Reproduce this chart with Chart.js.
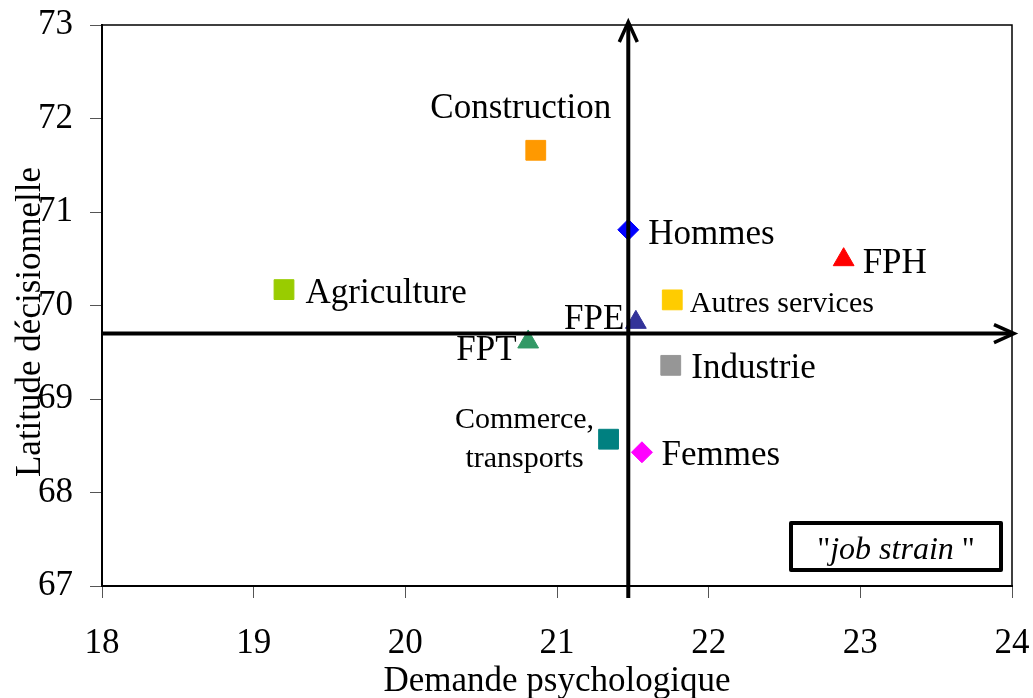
<!DOCTYPE html>
<html>
<head>
<meta charset="utf-8">
<script src="https://cdn.jsdelivr.net/npm/chart.js@4.4.0/dist/chart.umd.min.js"></script>
<style>
  body { margin: 0; background: #fff; }
  #wrap { width: 1033px; height: 698px; }
</style>
</head>
<body>
<div id="wrap"><canvas id="chart" width="1033" height="698"></canvas></div>
<script>
// data
const groups = ['Construction', 'Hommes', 'FPH', 'Agriculture', 'Autres services', 'FPE', 'FPT', 'Industrie', ['Commerce,', 'transports'], 'Femmes'];
const demande = [20.86, 21.47, 22.89, 19.20, 21.76, 21.52, 20.81, 21.75, 21.34, 21.56];
const latitude = [71.66, 70.81, 70.49, 70.17, 70.06, 69.82, 69.61, 69.36, 68.57, 68.43];
const xTicks = [18, 19, 20, 21, 22, 23, 24];
const yTicks = [67, 68, 69, 70, 71, 72, 73];
const crossDemande = 21.47;   // vertical reference axis
const crossLatitude = 69.70;  // horizontal reference axis
const xTitle = 'Demande psychologique';
const yTitle = 'Latitude décisionnelle';
const boxText = 'job strain';

// marker styles
const colors = ['#FF9900', '#0000FF', '#FF0000', '#99CC00', '#FFCC00', '#333399', '#339966', '#969696', '#008080', '#FF00FF'];
const shapes = ['rect', 'rectRot', 'triangle', 'rect', 'rect', 'triangle', 'triangle', 'rect', 'rect', 'rectRot'];
const radii = shapes.map(s => s === 'rect' ? 14 : (s === 'triangle' ? 12 : 10.5));

const FONT = '"Liberation Serif", "Times New Roman", serif';

// label placement relative to the marker: [dx, dy, align, size]
const labelPos = [
  [-15, -32, 'center', 35],
  [20, 14, 'left', 35],
  [19, 13.5, 'left', 35],
  [21.5, 13, 'left', 35],
  [17.5, 12, 'left', 30],
  [-11.5, 6.5, 'right', 35],
  [-11.5, 18.5, 'right', 35],
  [20.5, 13, 'left', 35],
  [-84, -11, 'center', 30],
  [19.5, 12.5, 'left', 35]
];

const points = demande.map((d, i) => ({ x: d, y: latitude[i] }));

function arrowHead(ctx, x, y, dir) {
  // open chevron, dir: 'up' or 'right'
  ctx.beginPath();
  if (dir === 'up') {
    ctx.moveTo(x - 9, y + 20);
    ctx.lineTo(x, y);
    ctx.lineTo(x + 9, y + 20);
  } else {
    ctx.moveTo(x - 20, y - 9);
    ctx.lineTo(x, y);
    ctx.lineTo(x - 20, y + 9);
  }
  ctx.stroke();
}

const decorations = {
  id: 'decorations',
  beforeDatasetsDraw(chart) {
    const { ctx, chartArea: a } = chart;
    ctx.save();
    ctx.strokeStyle = '#000';
    ctx.lineWidth = 1.5;
    ctx.beginPath();
    ctx.moveTo(a.left, a.top);
    ctx.lineTo(a.right, a.top);
    ctx.lineTo(a.right, a.bottom);
    ctx.stroke();
    ctx.restore();
  },
  afterDatasetsDraw(chart) {
    const { ctx, chartArea: a, scales: { x, y } } = chart;
    ctx.save();
    // reference axes with arrows
    const cx = x.getPixelForValue(crossDemande);
    const cy = y.getPixelForValue(crossLatitude);
    ctx.strokeStyle = '#000';
    ctx.lineWidth = 4;
    ctx.lineCap = 'butt';
    ctx.lineJoin = 'miter';
    ctx.beginPath();
    ctx.moveTo(cx, a.bottom + 12);
    ctx.lineTo(cx, a.top - 2);
    ctx.moveTo(a.left, cy);
    ctx.lineTo(a.right + 1, cy);
    ctx.stroke();
    ctx.lineWidth = 3.5;
    arrowHead(ctx, cx, a.top - 3, 'up');
    arrowHead(ctx, a.right + 2, cy, 'right');

    // point labels
    ctx.fillStyle = '#000';
    const meta = chart.getDatasetMeta(0);
    meta.data.forEach((pt, i) => {
      const [dx, dy, align, size] = labelPos[i];
      ctx.font = size + 'px ' + FONT;
      ctx.textAlign = align;
      ctx.textBaseline = 'alphabetic';
      const lines = Array.isArray(groups[i]) ? groups[i] : [groups[i]];
      lines.forEach((t, k) => ctx.fillText(t, pt.x + dx, pt.y + dy + k * 39));
    });

    // y axis title
    ctx.save();
    ctx.translate(40, 322);
    ctx.rotate(-Math.PI / 2);
    ctx.font = '35px ' + FONT;
    ctx.textAlign = 'center';
    ctx.fillText(yTitle, 0, 0);
    ctx.restore();

    // "job strain" box
    ctx.lineWidth = 4;
    ctx.lineJoin = 'round';
    ctx.strokeRect(791, 523, 210, 47);
    const parts = [['"', '32px ' + FONT], [boxText + ' ', 'italic 32px ' + FONT], ['"', '32px ' + FONT]];
    let total = 0;
    parts.forEach(p => { ctx.font = p[1]; total += ctx.measureText(p[0]).width; });
    let px = 896 - total / 2;
    ctx.textAlign = 'left';
    parts.forEach(p => {
      ctx.font = p[1];
      ctx.fillText(p[0], px, 559);
      px += ctx.measureText(p[0]).width;
    });
    ctx.restore();
  }
};

new Chart(document.getElementById('chart').getContext('2d'), {
  type: 'scatter',
  data: {
    datasets: [{
      label: 'Secteurs',
      data: points,
      pointStyle: shapes,
      pointRadius: radii,
      pointHoverRadius: radii,
      pointBackgroundColor: colors,
      pointBorderColor: colors,
      pointBorderWidth: 1
    }]
  },
  options: {
    responsive: false,
    animation: false,
    layout: { padding: { top: 25, right: 21, left: 0, bottom: 0 } },
    plugins: {
      legend: { display: false },
      tooltip: { enabled: false }
    },
    scales: {
      x: {
        type: 'linear',
        min: 18,
        max: 24,
        afterBuildTicks: s => { s.ticks = xTicks.map(v => ({ value: v })); },
        afterFit: s => { s.height = 112; s.paddingLeft = 0; s.paddingRight = 0; },
        ticks: { color: '#000', padding: 25, font: { family: FONT, size: 35 } },
        grid: { drawOnChartArea: false, drawTicks: true, tickLength: 12, color: '#555', lineWidth: 1 },
        border: { display: true, color: '#000', width: 2 },
        title: {
          display: true,
          text: xTitle,
          color: '#000',
          font: { family: FONT, size: 35, lineHeight: 1 },
          padding: { top: 0, bottom: -1 }
        }
      },
      y: {
        type: 'linear',
        min: 67,
        max: 73,
        afterBuildTicks: s => { s.ticks = yTicks.map(v => ({ value: v })); },
        afterFit: s => { s.width = 102; s.paddingTop = 0; s.paddingBottom = 0; },
        ticks: { color: '#000', padding: 17, font: { family: FONT, size: 35 } },
        grid: { drawOnChartArea: false, drawTicks: true, tickLength: 12, color: '#555', lineWidth: 1 },
        border: { display: true, color: '#000', width: 2 }
      }
    }
  },
  plugins: [decorations]
});
</script>
</body>
</html>
